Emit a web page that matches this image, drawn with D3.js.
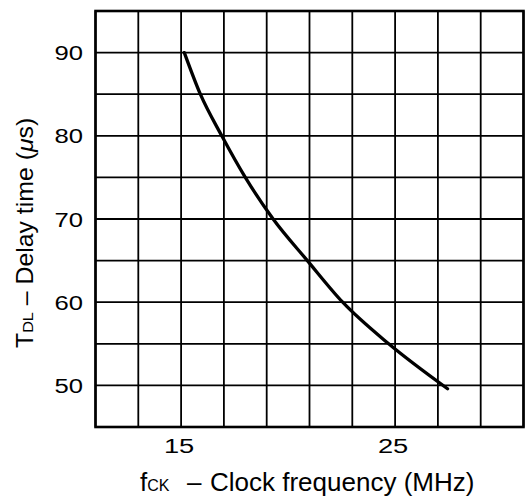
<!DOCTYPE html>
<html>
<head>
<meta charset="utf-8">
<script src="https://cdn.jsdelivr.net/npm/d3@7"></script>
<style>
  body { margin: 0; background: #fff; }
  svg { display: block; }
  text { font-family: "Liberation Sans", Arial, sans-serif; fill: #000; }
</style>
</head>
<body>
<svg id="chart" width="526" height="502"></svg>
<script>
// values
var freq  = [15.15, 15.9, 16.9, 18.0, 19.3, 20.9, 22.55, 24.7, 27.45];
var delay = [90, 85, 80, 75, 70, 65, 60, 55, 49.6];

var xTicks = [15, 25];
var yTicks = [50, 60, 70, 80, 90];
var xGrid = d3.range(11, 31.1, 2);
var yGrid = d3.range(45, 95.1, 5);

var svg = d3.select("#chart");

var x = d3.scaleLinear().domain([11, 31]).range([95.5, 523.5]);
var y = d3.scaleLinear().domain([45, 95]).range([427, 11]);

// grid
svg.append("g")
  .selectAll("line")
  .data(xGrid)
  .enter().append("line")
  .attr("x1", d => x(d)).attr("x2", d => x(d))
  .attr("y1", y(45)).attr("y2", y(95))
  .attr("stroke", "#000")
  .attr("stroke-width", 1.8);

svg.append("g")
  .selectAll("line")
  .data(yGrid)
  .enter().append("line")
  .attr("x1", x(11)).attr("x2", x(31))
  .attr("y1", d => y(d)).attr("y2", d => y(d))
  .attr("stroke", "#000")
  .attr("stroke-width", 1.8);

// frame
svg.append("rect")
  .attr("x", x(11)).attr("y", y(95))
  .attr("width", x(31) - x(11))
  .attr("height", y(45) - y(95))
  .attr("fill", "none")
  .attr("stroke", "#000")
  .attr("stroke-width", 2.6);

// curve
var pts = freq.map((f, i) => [f, delay[i]]);
var line = d3.line()
  .x(d => x(d[0]))
  .y(d => y(d[1]))
  .curve(d3.curveMonotoneX);

svg.append("path")
  .datum(pts)
  .attr("d", line)
  .attr("fill", "none")
  .attr("stroke", "#000")
  .attr("stroke-width", 3.3)
  .attr("stroke-linecap", "round");

// tick labels (scan has wide digits)
svg.append("g")
  .selectAll("text")
  .data(yTicks)
  .enter().append("text")
  .attr("transform", d => "translate(83," + (y(d) + 7.5) + ") scale(1.25,1)")
  .attr("text-anchor", "end")
  .attr("font-size", 20.5)
  .text(d => d);

svg.append("g")
  .selectAll("text")
  .data(xTicks)
  .enter().append("text")
  .attr("transform", d => "translate(" + (x(d) - 2) + ",453) scale(1.3,1)")
  .attr("text-anchor", "middle")
  .attr("font-size", 21)
  .text(d => d);

// x title
var xt = svg.append("text")
  .attr("y", 491)
  .attr("font-size", 26);
xt.append("tspan").attr("x", 140).text("f");
xt.append("tspan").attr("font-size", 16).text("CK");
xt.append("tspan").attr("x", 187).text("\u2013");
xt.append("tspan").attr("x", 210).text("Clock frequency (MHz)");

// y title
var yt = svg.append("text")
  .attr("transform", "translate(33,348) rotate(-90) scale(1.08,1)")
  .attr("font-size", 23);
yt.append("tspan").text("T");
yt.append("tspan").attr("font-size", 15).text("DL");
yt.append("tspan").text(" \u2013 Delay time (");
yt.append("tspan").attr("font-style", "italic").text("\u03bc");
yt.append("tspan").text("s)");
</script>
</body>
</html>
